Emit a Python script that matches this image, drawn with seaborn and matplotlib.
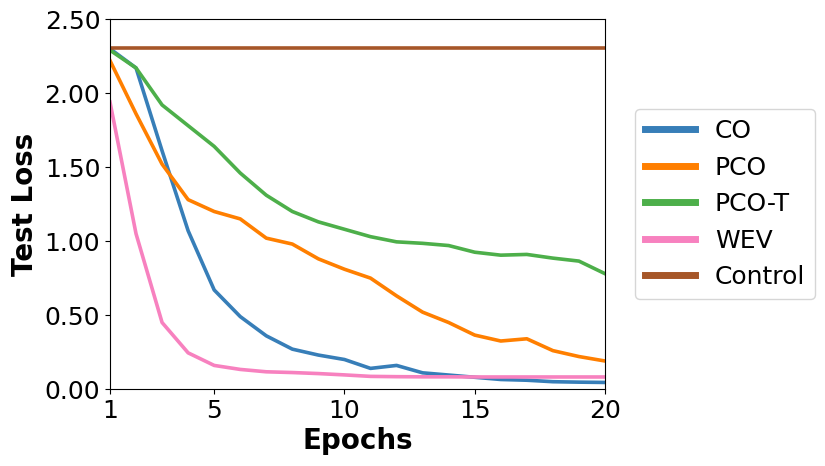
import numpy as np
import pandas as pd
import seaborn as sns
from matplotlib import pyplot as plt

epochs = list(range(1, 21))
co = [2.30, 2.17, 1.61, 1.07, 0.67, 0.49, 0.36, 0.27, 0.23, 0.20,
      0.14, 0.16, 0.11, 0.095, 0.08, 0.065, 0.06, 0.05, 0.047, 0.045]
pco = [2.22, 1.86, 1.52, 1.28, 1.20, 1.15, 1.02, 0.98, 0.88, 0.81,
       0.75, 0.63, 0.52, 0.45, 0.365, 0.325, 0.34, 0.26, 0.22, 0.19]
pco_t = [2.29, 2.17, 1.92, 1.78, 1.64, 1.46, 1.31, 1.20, 1.13, 1.08,
         1.03, 0.995, 0.985, 0.97, 0.925, 0.905, 0.91, 0.885, 0.865, 0.78]
wev = [1.94, 1.05, 0.45, 0.245, 0.16, 0.133, 0.117, 0.112, 0.105, 0.096,
       0.086, 0.084, 0.083, 0.083, 0.082, 0.082, 0.082, 0.082, 0.082, 0.082]
control = [2.303] * 20

methods = ['CO', 'PCO', 'PCO-T', 'WEV', 'Control']
colors = ['#377eb8', '#ff7f00', '#4daf4a', '#f781bf', '#a65628']

df = pd.DataFrame({'Epochs': epochs, 'CO': co, 'PCO': pco, 'PCO-T': pco_t,
                   'WEV': wev, 'Control': control})
long = df.melt(id_vars='Epochs', var_name='Method', value_name='Test Loss')

fig, ax = plt.subplots(figsize=(8.25, 4.66), dpi=100)
fig.subplots_adjust(left=0.1333, right=0.7333, bottom=0.165, top=0.959)
sns.lineplot(data=long, x='Epochs', y='Test Loss', hue='Method',
             hue_order=methods, palette=colors, linewidth=2.6, ax=ax)

ax.set_xlim(1, 20)
ax.set_ylim(0, 2.5)
ax.set_xticks([1, 5, 10, 15, 20])
ax.set_yticks(np.arange(0, 2.51, 0.5))
ax.set_yticklabels([f'{v:.2f}' for v in np.arange(0, 2.51, 0.5)])
ax.tick_params(labelsize=18)
ax.set_xlabel('Epochs', fontsize=20, fontweight='bold', labelpad=3)
ax.set_ylabel('Test Loss', fontsize=20, fontweight='bold')

leg = ax.legend(loc='center left', bbox_to_anchor=(1.035, 0.5), fontsize=18,
                handlelength=2.0)
for line in leg.get_lines():
    line.set_linewidth(5)

fig.savefig('out.png', dpi=100)
